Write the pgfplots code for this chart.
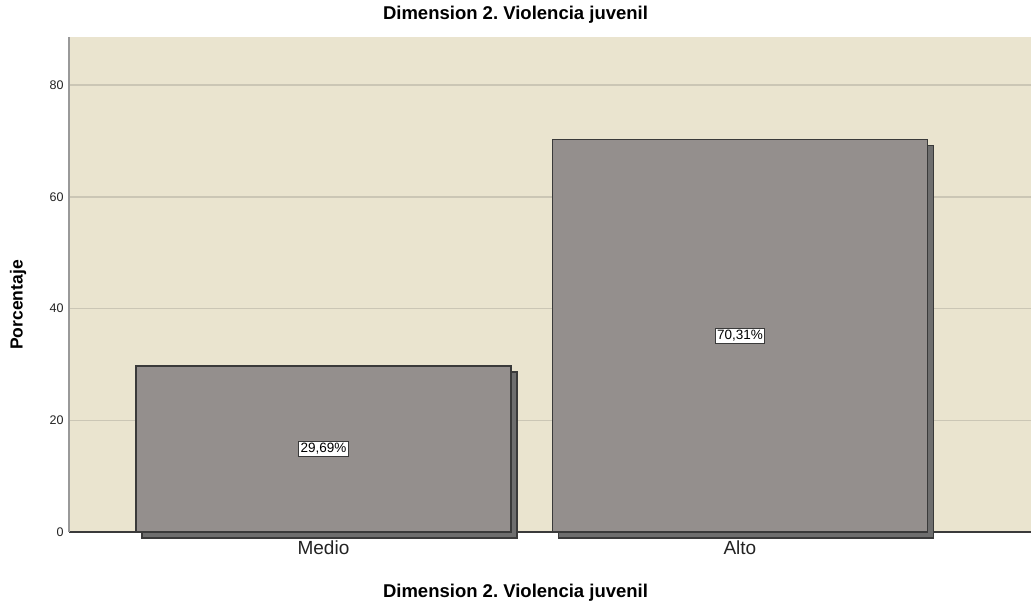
\documentclass[border=0pt]{standalone}
\usepackage{pgfplots}
\pgfplotsset{compat=1.18}
\usepackage{fontspec}
\setmainfont{Liberation Sans}
\usetikzlibrary{shadows}
\definecolor{bgc}{HTML}{EAE4CF}
\definecolor{gridc}{HTML}{CBC6B5}
\definecolor{barc}{HTML}{948F8D}
\definecolor{edgec}{HTML}{3A3A3A}
\definecolor{shadc}{HTML}{6E6E6E}
\definecolor{txtc}{HTML}{222222}
\frenchspacing
\begin{document}
\begin{tikzpicture}[x=1pt,y=1pt]
\useasboundingbox (0,0) rectangle (1031,605);
\begin{axis}[
  at={(69pt,73pt)}, anchor=south west,
  width=962pt, height=495pt, scale only axis,
  xmin=-0.611, xmax=1.699, ymin=0, ymax=88.6,
  xtick={0,1}, xticklabels={Medio,Alto},
  ytick={0,20,40,60,80},
  major tick length=0pt,
  axis x line*=bottom, axis y line*=left,
  x axis line style={draw=edgec, line width=1.2pt, -},
  y axis line style={draw=gray!80, line width=2pt, -},
  ymajorgrids, grid style={gridc, line width=1.5pt},
  axis background/.style={fill=bgc},
  clip=false,
  /pgf/number format/assume math mode=true,
  yticklabel style={font=\fontsize{12.5}{14}\selectfont, text=txtc, xshift=-2pt},
  xticklabel style={font=\fontsize{19}{22}\selectfont, text=txtc, yshift=-5pt},
]
\addplot[ybar, bar width=0.9, fill=barc, draw=edgec, line width=1.3pt,
  drop shadow={shadow xshift=6pt, shadow yshift=-6pt, fill=shadc, opacity=1}]
  coordinates {(0,29.69) (1,70.31)};
\addplot[draw=none, mark=none, nodes near coords, point meta=explicit symbolic,
  nodes near coords style={anchor=center, fill=white, draw=edgec, line width=1pt,
  inner sep=2pt, font=\fontsize{13.5}{15}\selectfont, text=black}]
  coordinates {(0,14.845) [29,69\%] (1,35.155) [70,31\%]};
\end{axis}
\node[font=\bfseries\fontsize{18.5}{22}\selectfont, text=black] at (515.5,590) {Dimension 2. Violencia juvenil};
\node[font=\bfseries\fontsize{18.5}{22}\selectfont, text=black] at (515.5,12) {Dimension 2. Violencia juvenil};
\node[font=\bfseries\fontsize{17.5}{22}\selectfont, text=black, rotate=90] at (18,300) {Porcentaje};
\end{tikzpicture}
\end{document}
